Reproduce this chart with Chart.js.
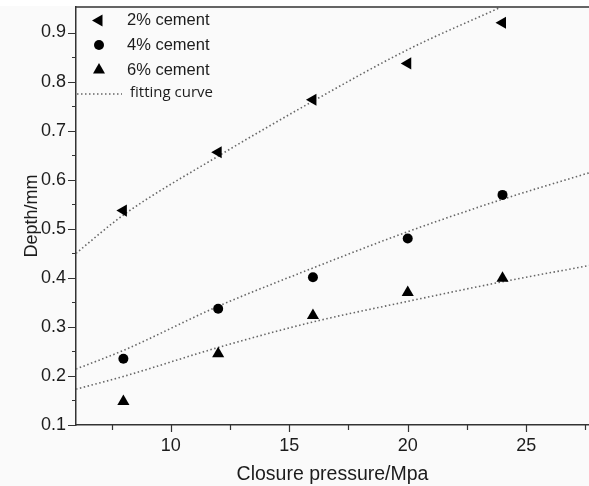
<!DOCTYPE html>
<html>
<head>
<meta charset="utf-8">
<script src="https://cdn.jsdelivr.net/npm/chart.js@4/dist/chart.umd.min.js"></script>
<style>
  html, body { margin: 0; padding: 0; background: #fafafa; overflow: hidden; }
  #box { width: 589px; height: 486px; }
</style>
</head>
<body>
<div id="box"><canvas id="depthChart"></canvas></div>
<script>
// measured points
const pressure = [8, 12, 16, 20, 24];
const depth2 = [0.537, 0.656, 0.763, 0.837, 0.920];
const depth4 = [0.235, 0.337, 0.401, 0.480, 0.569];
const depth6 = [0.148, 0.245, 0.323, 0.370, 0.399];

// fitting curves
const fit2X = [6, 8, 12, 16, 20, 23.9];
const fit2Y = [0.450, 0.528, 0.648, 0.760, 0.865, 0.951];
const fitX = [6, 8, 12, 16, 20, 24, 27.65];
const fit4Y = [0.214, 0.252, 0.342, 0.420, 0.494, 0.560, 0.614];
const fit6Y = [0.173, 0.199, 0.258, 0.310, 0.352, 0.392, 0.425];

const seriesLabels = ['2% cement', '4% cement', '6% cement', 'fitting curve'];

// axes
const xTicks = [10, 15, 20, 25];
const xMinorTicks = [7.5, 12.5, 17.5, 22.5, 27.5];
const yTicks = [0.1, 0.2, 0.3, 0.4, 0.5, 0.6, 0.7, 0.8, 0.9];
const yMinorTicks = [0.15, 0.25, 0.35, 0.45, 0.55, 0.65, 0.75, 0.85];

const pts = (xs, ys) => xs.map((x, i) => ({ x: x, y: ys[i] }));

const axisColor = '#333';
const textColor = '#1c1c1c';
const fitColor = '#666';
const fontFamily = '"Liberation Sans", Arial, sans-serif';

const fitStyle = {
  showLine: true,
  pointRadius: 0,
  borderColor: fitColor,
  borderWidth: 1.6,
  borderDash: [1.5, 2.5],
  cubicInterpolationMode: 'monotone',
  fill: false
};

// background, top frame line, tick marks, legend
const decor = {
  id: 'decor',
  beforeDraw(chart) {
    const ctx = chart.ctx;
    ctx.save();
    ctx.fillStyle = '#fafafa';
    ctx.fillRect(0, 0, chart.width, chart.height);
    ctx.fillStyle = '#ffffff';
    ctx.fillRect(0, 0, chart.width, chart.chartArea.top - 1);
    ctx.restore();
  },
  afterDraw(chart) {
    const ctx = chart.ctx;
    const a = chart.chartArea;
    const xs = chart.scales.x;
    const ys = chart.scales.y;
    ctx.save();
    ctx.strokeStyle = axisColor;
    ctx.lineWidth = 1.5;
    ctx.beginPath();
    ctx.moveTo(a.left, a.top);
    ctx.lineTo(chart.width, a.top);
    ctx.stroke();

    ctx.lineWidth = 1.2;
    ctx.beginPath();
    yTicks.forEach(v => {
      const y = Math.round(ys.getPixelForValue(v)) + 0.5;
      ctx.moveTo(a.left - 8, y); ctx.lineTo(a.left, y);
    });
    yMinorTicks.forEach(v => {
      const y = Math.round(ys.getPixelForValue(v)) + 0.5;
      ctx.moveTo(a.left - 4, y); ctx.lineTo(a.left, y);
    });
    xTicks.forEach(v => {
      const x = Math.round(xs.getPixelForValue(v)) + 0.5;
      ctx.moveTo(x, a.bottom); ctx.lineTo(x, a.bottom + 7);
    });
    xMinorTicks.forEach(v => {
      const x = Math.round(xs.getPixelForValue(v)) + 0.5;
      ctx.moveTo(x, a.bottom); ctx.lineTo(x, a.bottom + 5);
    });
    ctx.stroke();

    // legend
    const mx = 99, tx = 127;
    const rows = [20.5, 45, 70, 94];
    ctx.fillStyle = '#000';
    ctx.beginPath();
    ctx.moveTo(mx - 7, rows[0]);
    ctx.lineTo(mx + 3.5, rows[0] - 6);
    ctx.lineTo(mx + 3.5, rows[0] + 6);
    ctx.closePath();
    ctx.fill();
    ctx.beginPath();
    ctx.arc(mx, rows[1], 5, 0, Math.PI * 2);
    ctx.fill();
    ctx.beginPath();
    ctx.moveTo(mx, rows[2] - 7);
    ctx.lineTo(mx + 6, rows[2] + 3.5);
    ctx.lineTo(mx - 6, rows[2] + 3.5);
    ctx.closePath();
    ctx.fill();
    ctx.strokeStyle = fitColor;
    ctx.lineWidth = 1.6;
    ctx.setLineDash([1.5, 2.5]);
    ctx.beginPath();
    ctx.moveTo(77, rows[3]);
    ctx.lineTo(122, rows[3]);
    ctx.stroke();
    ctx.setLineDash([]);

    ctx.fillStyle = textColor;
    ctx.textBaseline = 'middle';
    ctx.font = '16.5px ' + fontFamily;
    for (let i = 0; i < 3; i++) ctx.fillText(seriesLabels[i], tx, rows[i]);
    ctx.font = '15px "Open Sans", sans-serif';
    ctx.fillText(seriesLabels[3], 130, rows[3] - 1);
    ctx.restore();
  }
};

new Chart(document.getElementById('depthChart'), {
  type: 'scatter',
  data: {
    datasets: [
      { label: seriesLabels[0], data: pts(pressure, depth2), pointStyle: 'triangle', rotation: -90, pointRadius: 7, backgroundColor: '#000', borderWidth: 0 },
      { label: seriesLabels[1], data: pts(pressure, depth4), pointStyle: 'circle', pointRadius: 5, backgroundColor: '#000', borderWidth: 0 },
      { label: seriesLabels[2], data: pts(pressure, depth6), pointStyle: 'triangle', pointRadius: 7, backgroundColor: '#000', borderWidth: 0 },
      Object.assign({ label: seriesLabels[3], data: pts(fit2X, fit2Y) }, fitStyle),
      Object.assign({ label: seriesLabels[3], data: pts(fitX, fit4Y) }, fitStyle),
      Object.assign({ label: seriesLabels[3], data: pts(fitX, fit6Y) }, fitStyle)
    ]
  },
  options: {
    responsive: true,
    maintainAspectRatio: false,
    animation: false,
    layout: { autoPadding: false, padding: { top: 7, right: 0, left: 0, bottom: 0 } },
    plugins: {
      legend: { display: false },
      tooltip: { enabled: false }
    },
    scales: {
      x: {
        type: 'linear',
        min: 6,
        max: 27.65,
        afterBuildTicks: s => { s.ticks = xTicks.map(v => ({ value: v })); },
        afterFit: s => { s.height = 61; s.paddingLeft = 0; s.paddingRight = 0; },
        grid: { display: false, drawTicks: false },
        border: { display: true, color: axisColor, width: 1.5 },
        ticks: { padding: 10, color: textColor, font: { family: fontFamily, size: 18 }, maxRotation: 0 },
        title: { display: true, text: 'Closure pressure/Mpa', color: textColor, padding: { top: 0, bottom: 0 }, font: { family: fontFamily, size: 19.5 } }
      },
      y: {
        min: 0.1,
        max: 0.952,
        afterBuildTicks: s => { s.ticks = yTicks.map(v => ({ value: v })); },
        afterFit: s => { s.width = 76; s.paddingTop = 0; s.paddingBottom = 0; },
        grid: { display: false, drawTicks: false },
        border: { display: true, color: axisColor, width: 1.5 },
        ticks: { padding: 10, color: textColor, font: { family: fontFamily, size: 18 }, callback: v => v.toFixed(1) },
        title: { display: true, text: 'Depth/mm', color: textColor, padding: { top: 21, bottom: 0 }, font: { family: fontFamily, size: 18 } }
      }
    }
  },
  plugins: [decor]
});
</script>
</body>
</html>
